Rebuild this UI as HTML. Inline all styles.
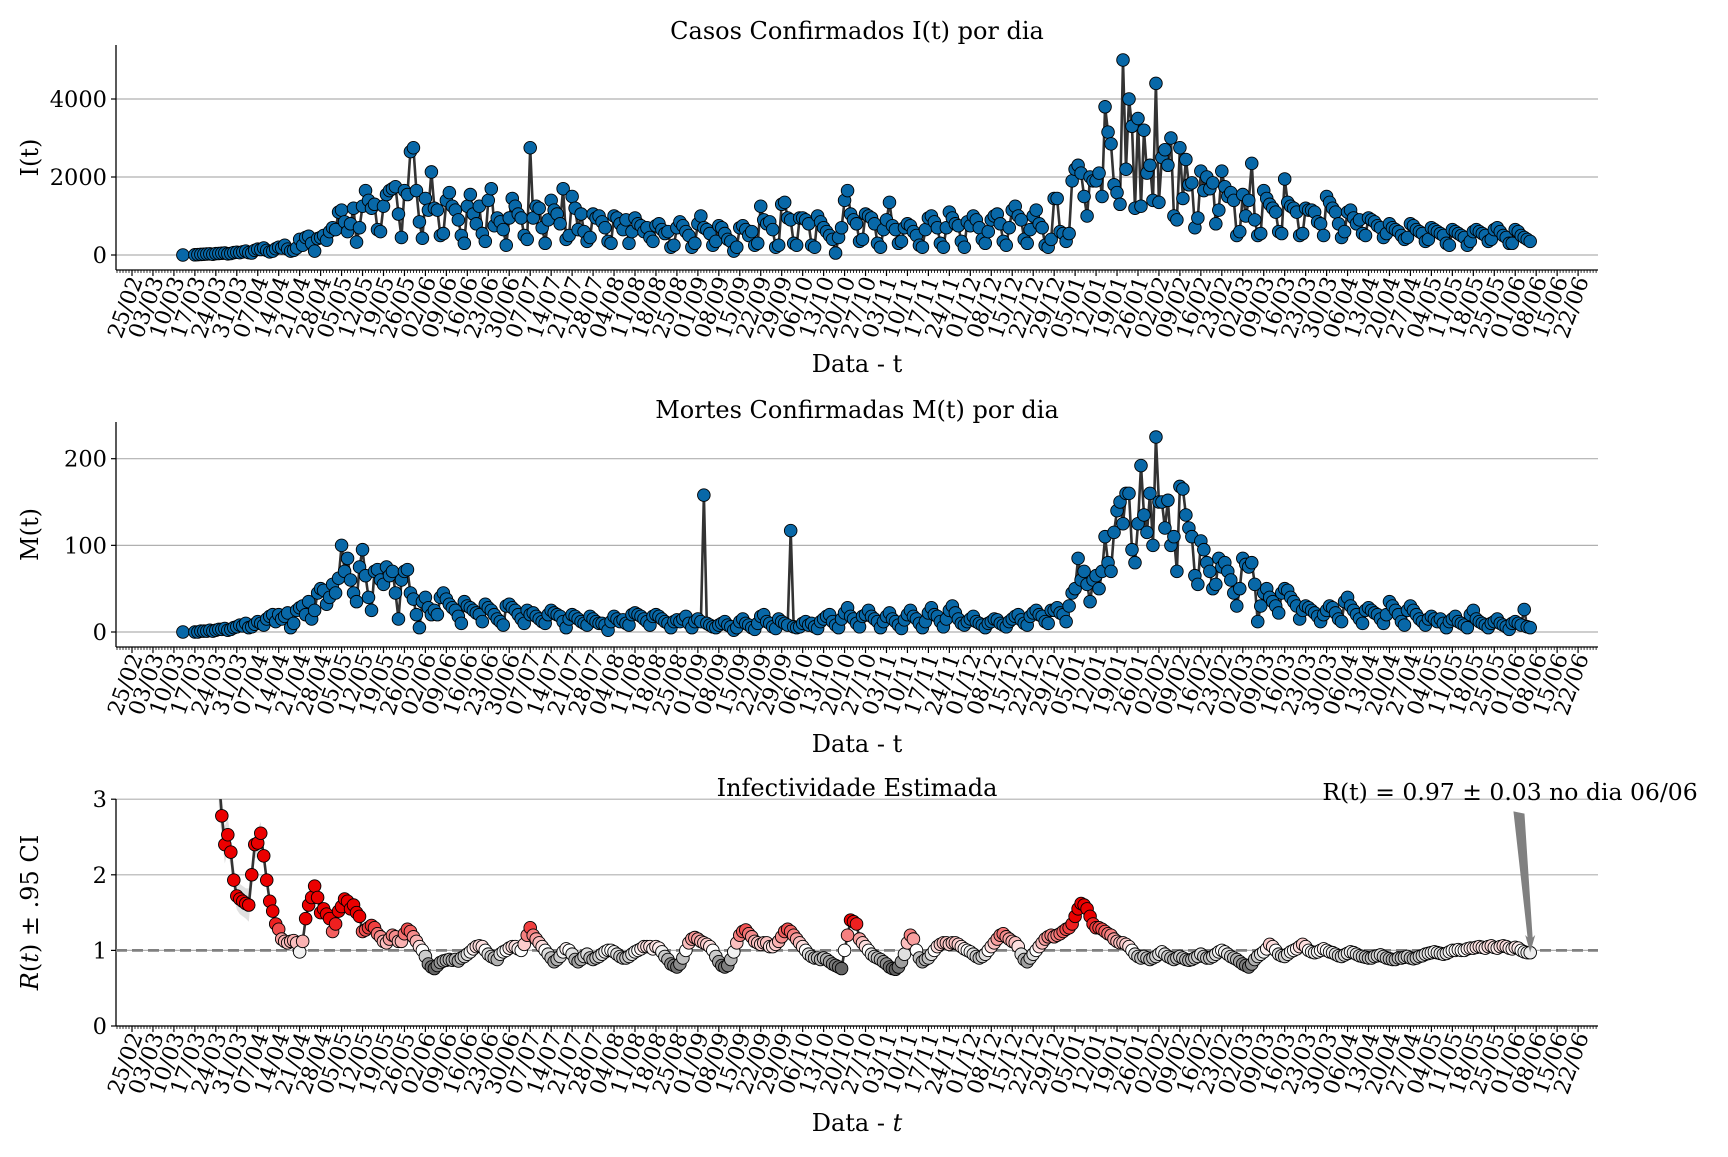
<!DOCTYPE html>
<html><head><meta charset="utf-8">
<style>
html,body{margin:0;padding:0;background:#fff;}
svg text{font-family:"DejaVu Serif","Liberation Serif",serif;fill:#000;}
</style></head>
<body>
<svg id="chart" width="1728" height="1152" viewBox="0 0 1728 1152" xmlns="http://www.w3.org/2000/svg">
<defs>
<clipPath id="c1"><rect x="116" y="45" width="1482" height="225"/></clipPath>
<clipPath id="c2"><rect x="116" y="422" width="1482" height="225"/></clipPath>
<clipPath id="c3"><rect x="116" y="799" width="1482" height="227"/></clipPath>
</defs>
<rect width="1728" height="1152" fill="#fff"/>
<g id="p1"></g>
<g id="p2"></g>
<g id="p3"></g>
</svg>
<script>
// ---------- DATA ----------
const firstDay = 17; // days since 25/02/2020
const casesValues = [1,null,null,null,
5,10,15,20,25,30,20, 35,40,45,50,30,40,60, 70,60,80,100,60,50,120, 150,140,180,120,80,100,160,
200,180,250,150,100,120,180, 400,250,450,480,300,100,420, 450,500,380,600,700,650,1100,
1150,850,600,800,1200,330,700, 1250,1650,1400,1200,1300,650,600, 1250,1550,1650,1700,1750,1050,450,
1650,1550,2650,2750,1650,850,430, 1450,1150,2130,1200,1150,500,550, 1400,1600,1250,1150,900,500,300,
1250,1550,1050,800,1250,550,350, 1400,1700,750,950,850,650,250, 950,1450,1250,1050,950,500,400,
2750,950,1250,1200,700,300,900, 1400,1150,1050,800,1700,400,500, 1500,1200,650,1050,600,350,450,
1050,950,1000,850,700,350,300, 1000,950,800,650,900,300,600, 950,800,750,600,700,450,350,
750,800,650,550,600,200,250, 700,850,750,600,500,200,300, 800,1000,700,650,550,250,350,
750,700,550,400,350,100,200, 700,750,650,500,600,250,300, 1250,900,800,850,650,200,250,
1300,1350,950,900,300,250,950, 950,900,800,250,200,1000,850, 700,600,500,400,50,450,700,
1400,1650,1050,900,800,350,400, 1050,1000,950,800,300,200,650, 900,1350,750,650,300,350,700,
800,750,600,500,250,200,650, 950,1000,850,700,300,200,700, 1100,950,800,750,350,200,850,
750,1000,900,700,400,300,600, 900,1000,1050,800,350,250,700, 1150,1250,1000,900,400,300,650,
1000,1150,800,700,250,200,400, 1450,1450,600,550,350,550,1900, 2200,2300,2100,1500,1000,2000,1900,
1900,2100,1500,3800,3150,2850,1800, 1600,1300,5000,2200,4000,3300,1200, 3500,1250,3200,2100,2300,1400,4400,
1350,2500,2700,2300,3000,1000,900, 2750,1450,2450,1800,1850,700,950, 2150,1650,2000,1700,1850,800,1150,
2150,1750,1500,1600,1400,500,600, 1550,1000,1400,2350,900,500,550, 1650,1450,1300,1200,1100,600,550,
1950,1350,1250,1200,1100,500,550, 1200,1150,1150,1100,850,800,500, 1500,1350,1200,1100,800,450,600,
1100,1150,950,800,900,550,500, 950,900,850,750,700,450,550, 800,700,650,600,500,400,450,
800,750,650,600,550,350,400, 700,650,600,550,500,300,250, 650,600,550,500,450,250,350,
600,650,600,550,500,350,400, 650,700,600,500,450,300,300, 650,600,500,450,400,350];
const deathsValues = [0,null,null,null,
0,0,1,1,1,2,1, 2,3,3,4,2,3,5, 6,8,7,10,5,6,9, 12,10,8,15,18,20,12,
20,15,18,22,5,10,25, 28,30,20,35,15,25,45, 50,48,32,40,55,45,62,
100,70,85,60,45,35,75, 95,65,40,25,70,72,60, 55,75,65,70,45,15,60,
70,72,45,38,20,5,35, 40,28,20,25,20,40,45, 38,32,28,25,18,10,35,
30,28,25,22,20,12,32, 28,25,20,15,12,8,30, 32,28,25,20,15,10,25,
20,22,18,15,12,10,20, 25,22,20,18,12,5,15, 20,18,15,12,10,8,18,
15,12,10,10,8,2,12, 18,15,12,14,10,8,20, 22,20,18,15,12,8,18,
20,18,15,12,10,5,12, 14,12,15,18,10,5,12, 15,12,158,10,8,6,5,
8,10,12,8,6,2,5, 12,15,10,8,5,3,10, 18,20,12,10,6,4,15,
12,10,8,117,6,5,6, 10,12,8,10,6,4,12, 15,18,20,12,8,5,15,
22,28,18,15,10,6,18, 20,25,18,15,12,5,12, 18,22,15,12,8,4,14,
20,25,18,15,10,5,12, 22,28,20,18,12,6,15, 25,30,22,15,10,8,12,
15,18,12,10,8,5,10, 12,15,14,10,8,6,12, 15,18,20,14,10,8,18,
22,25,20,18,12,10,25, 25,28,22,20,12,30,45, 50,85,60,70,55,35,60,
65,50,70,110,80,70,115, 140,150,125,160,160,95,80, 125,192,135,115,160,100,225,
150,150,120,152,100,110,70, 168,165,135,120,110,65,55, 105,95,80,70,50,55,85,
75,80,70,60,45,30,50, 85,78,75,80,55,12,30, 45,50,40,35,30,22,45,
50,48,40,35,30,15,25, 30,28,25,22,18,12,20, 25,30,28,22,15,12,35,
40,30,25,20,15,10,25, 28,25,22,20,15,10,20, 35,30,25,20,12,8,25,
30,25,20,15,12,8,15, 18,15,12,15,10,5,12, 15,18,12,10,8,5,20,
25,15,12,10,8,5,10, 12,15,10,8,6,3,10, 12,10,8,26,6,5];
const rFirstDay = 29;
const rValues = [3.3,2.78,2.4,2.53,2.3,1.93,1.72,1.68,1.65,1.62,1.6,2.0,2.4,2.42,2.55,2.25,1.93,1.65,1.52,1.35,1.28,1.15,1.12,1.1,1.12,1.13,1.1,0.98,1.12,1.42,1.6,1.7,1.85,1.7,1.5,1.55,1.48,1.42,1.25,1.35,1.52,1.58,1.68,1.65,1.55,1.6,1.5,1.45,1.25,1.27,1.3,1.33,1.3,1.22,1.18,1.12,1.1,1.15,1.2,1.18,1.12,1.12,1.22,1.28,1.25,1.18,1.12,1.05,1.0,
0.92,0.82,0.78,0.76,0.8,0.84,0.86,0.87,0.88,0.87,0.88,0.86,0.9,0.92,0.95,0.98,1.02,1.05,1.06,1.05,1.0,0.95,0.92,0.9,0.88,0.95,0.98,1.0,1.03,1.05,1.05,1.02,1.0,1.08,1.2,1.3,
1.2,1.15,1.1,1.05,1.0,0.95,0.9,0.85,0.88,0.92,0.98,1.02,1.0,0.95,0.88,0.85,0.88,0.92,0.95,0.9,0.88,0.9,0.92,0.95,0.98,1.0,1.0,0.98,0.95,0.92,0.9,0.9,0.92,0.95,0.98,1.0,1.02,1.05,1.05,1.05,1.02,1.05,1.03,0.98,0.92,0.88,0.82,0.8,0.78,
0.82,0.9,1.0,1.1,1.15,1.17,1.15,1.12,1.1,1.08,1.05,1.0,0.92,0.85,0.8,0.78,0.8,0.88,0.98,1.1,1.2,1.25,1.27,1.22,1.18,1.12,1.1,1.08,1.1,1.1,1.05,1.05,1.08,1.12,1.18,1.25,1.28,1.25,1.2,1.15,1.1,1.05,1.0,0.95,0.92,0.9,0.9,0.88,0.9,0.88,0.85,0.82,0.8,0.78,0.76,1.0,1.2,1.4,
1.38,1.35,1.15,1.1,1.05,1.0,0.95,0.92,0.9,0.88,0.85,0.82,0.78,0.76,0.75,0.78,0.85,0.95,1.1,1.2,1.15,1.0,0.9,0.85,0.88,0.9,0.95,1.0,1.05,1.08,1.1,1.1,1.08,1.1,1.1,1.08,1.05,1.02,1.0,0.98,0.95,0.92,0.9,0.92,0.95,1.0,1.05,1.1,1.15,1.2,1.22,1.18,1.15,1.12,1.1,1.05,0.95,0.88,0.85,0.9,
0.95,1.0,1.05,1.1,1.15,1.18,1.2,1.18,1.2,1.22,1.25,1.28,1.3,1.35,1.45,1.55,1.62,1.6,1.55,1.45,1.35,1.3,1.3,1.28,1.25,1.22,1.2,1.15,1.12,1.1,1.1,1.08,1.05,1.0,0.95,0.92,0.9,0.92,0.9,0.88,0.9,0.92,0.95,0.98,0.95,
0.92,0.9,0.88,0.9,0.92,0.9,0.88,0.87,0.88,0.9,0.92,0.95,0.92,0.9,0.9,0.92,0.95,0.98,1.0,0.98,0.95,0.92,0.9,0.88,0.85,0.82,0.8,0.78,0.82,0.88,0.92,0.95,0.98,1.02,1.08,1.05,1.0,0.95,0.93,0.92,0.95,0.98,1.0,1.02,1.05,1.08,1.05,1.0,0.98,0.97,0.98,1.0,1.02,1.0,0.98,
0.97,0.95,0.93,0.92,0.94,0.96,0.98,0.97,0.95,0.93,0.92,0.91,0.9,0.9,0.92,0.93,0.94,0.92,0.9,0.89,0.88,0.88,0.9,0.9,0.91,0.92,0.9,0.89,0.9,0.92,0.93,0.95,0.96,0.97,0.98,0.97,0.96,0.95,0.96,0.98,1.0,1.0,1.01,1.0,1.0,1.02,1.03,1.03,1.04,1.05,1.04,1.03,1.05,1.06,1.04,1.03,1.05,1.06,1.05,1.03,1.02,1.04,1.03,1.0,0.98,0.97,0.97];
const rErrors = [0.4,0.3,0.25,0.22,0.2,0.18,0.18,0.2,0.2,0.2,0.22,0.2,0.18,0.18,0.15,0.12,0.1,0.08,0.07,0.06,0.05,0.05,0.05,0.04,0.04];
const yTicks1 = [0,2000,4000];
const yTicks2 = [0,100,200];
const yTicks3 = [0,1,2,3];
const tickLabels = ["25/02","03/03","10/03","17/03","24/03","31/03","07/04","14/04","21/04","28/04","05/05","12/05","19/05","26/05","02/06","09/06","16/06","23/06","30/06","07/07","14/07","21/07","28/07","04/08","11/08","18/08","25/08","01/09","08/09","15/09","22/09","29/09","06/10","13/10","20/10","27/10","03/11","10/11","17/11","24/11","01/12","08/12","15/12","22/12","29/12","05/01","12/01","19/01","26/01","02/02","09/02","16/02","23/02","02/03","09/03","16/03","23/03","30/03","06/04","13/04","20/04","27/04","04/05","11/05","18/05","25/05","01/06","08/06","15/06","22/06"];

// ---------- HELPERS ----------
const NS = "http://www.w3.org/2000/svg";
function mk(tag, attrs, parent){const e=document.createElementNS(NS,tag);for(const k in attrs)e.setAttribute(k,attrs[k]);parent.appendChild(e);return e;}
const X0=116, X1=1598;
const xOfDay = d => 132 + d*2.994;
const panels = [
 {g:'p1', top:45, bottom:270, y:v=>255 - v*0.039, ticks:yTicks1, clip:'c1', title:'Casos Confirmados I(t) por dia', titleY:39, ylab:'I(t)', xlabY:372},
 {g:'p2', top:422, bottom:647, y:v=>632 - v*0.8665, ticks:yTicks2, clip:'c2', title:'Mortes Confirmadas M(t) por dia', titleY:418, ylab:'M(t)', xlabY:752},
 {g:'p3', top:799, bottom:1026, y:v=>1026 - v*75.6, ticks:yTicks3, clip:'c3', title:'Infectividade Estimada', titleY:796, ylab:null, xlabY:1131}
];

panels.forEach((p,pi)=>{
  const g=document.getElementById(p.g);
  p.ticks.forEach(t=>{
    const yy=p.y(t);
    const gl=mk('line',{x1:X0,x2:X1,y1:yy,y2:yy,stroke:'#b0b0b0','stroke-width':1.2},g);
    
    
    mk('line',{x1:X0-5,x2:X0,y1:yy,y2:yy,stroke:'#000','stroke-width':1.2},g);
    const tl=mk('text',{x:X0-9,y:yy+8,'text-anchor':'end','font-size':22.5},g);
    tl.textContent=String(t);
    
    
  });
  const ls=mk('line',{x1:X0,x2:X0,y1:p.top,y2:p.bottom,stroke:'#000','stroke-width':1.3},g);
  
  
  const bs=mk('line',{x1:X0,x2:X1,y1:p.bottom,y2:p.bottom,stroke:'#000','stroke-width':1.3},g);
  
  
  let dpath='';
  for(let d=-5; xOfDay(d)<=X1; d++){ const xx=xOfDay(d); if(xx<X0) continue; dpath+='M'+xx.toFixed(1)+' '+p.bottom+'v3'; }
  mk('path',{d:dpath,stroke:'#000','stroke-width':0.8},g);
  tickLabels.forEach((lab,i)=>{
    const xx=xOfDay(i*7);
    mk('line',{x1:xx,x2:xx,y1:p.bottom,y2:p.bottom+6,stroke:'#000','stroke-width':1.2},g);
    const ax=xx+11, ay=p.bottom+10;
    const t=mk('text',{x:ax,y:ay,'text-anchor':'end','font-size':22,transform:`rotate(-70 ${ax} ${ay})`},g);
    t.textContent=lab;
    
    
  });
  const tt=mk('text',{x:(X0+X1)/2,y:p.titleY,'text-anchor':'middle','font-size':24},g);
  tt.textContent=p.title;
  
  
  const xl=mk('text',{x:(X0+X1)/2,y:p.xlabY,'text-anchor':'middle','font-size':24},g);
  if(pi===2){ xl.innerHTML='Data - <tspan font-style="italic">t</tspan>'; } else { xl.textContent='Data - t'; }
  
  
  const cy=(p.top+p.bottom)/2;
  const yl=mk('text',{x:38,y:cy,'text-anchor':'middle','font-size':24,transform:`rotate(-90 38 ${cy})`},g);
  if(p.ylab){ yl.textContent=p.ylab; } else { yl.innerHTML='<tspan font-style="italic">R</tspan>(<tspan font-style="italic">t</tspan>) ± .95 CI'; }
  
  
});

function drawSeries(panel, values, start, name){
  const g=document.getElementById(panel.g);
  const sg=mk('g',{'clip-path':`url(#${panel.clip})`},g);
  
  
  let d='', pen=false;
  values.forEach((v,i)=>{ if(v===null){pen=false;return;} const xx=xOfDay(start+i), yy=panel.y(v); d+=(pen?'L':'M')+xx.toFixed(1)+' '+yy.toFixed(1); pen=true; });
  const ln=mk('path',{d:d,fill:'none',stroke:'#333','stroke-width':2.6,'stroke-linejoin':'round'},sg);
  
  
  return sg;
}
const sg1=drawSeries(panels[0],casesValues,firstDay,'cases');
casesValues.forEach((v,i)=>{ if(v===null) return;
  const c=mk('circle',{cx:xOfDay(firstDay+i),cy:panels[0].y(v),r:6.3,fill:'#0868a8',stroke:'#000','stroke-width':0.9},sg1);
  
  
});
const sg2=drawSeries(panels[1],deathsValues,firstDay,'deaths');
deathsValues.forEach((v,i)=>{ if(v===null) return;
  const c=mk('circle',{cx:xOfDay(firstDay+i),cy:panels[1].y(v),r:6.3,fill:'#0868a8',stroke:'#000','stroke-width':0.9},sg2);
  
  
});
const P3=panels[2], g3=document.getElementById('p3');
(function(){
  const n=rValues.length;
  const pts=[];
  for(let i=0;i<n;i++){ const e=i<rErrors.length?rErrors[i]:0.02; pts.push([xOfDay(rFirstDay+i),P3.y(rValues[i]+e),P3.y(rValues[i]-e)]); }
  let d='M'+pts.map(p=>p[0].toFixed(1)+' '+p[1].toFixed(1)).join('L');
  d+='L'+pts.slice().reverse().map(p=>p[0].toFixed(1)+' '+p[2].toFixed(1)).join('L')+'Z';
  const b=mk('path',{d:d,fill:'#cccccc','fill-opacity':0.6,'clip-path':'url(#c3)'},g3);
  
  
})();
const ref=mk('line',{x1:X0,x2:X1,y1:P3.y(1),y2:P3.y(1),stroke:'#808080','stroke-width':2.8,'stroke-dasharray':'11,5'},g3);


const sg3=drawSeries(P3,rValues,rFirstDay,'rt');
function rColor(r){
  let a,b,t;
  if(r>=1){ t=Math.min((r-1)/0.4,1); a=[255,255,255]; b=[235,0,0]; }
  else { t=Math.min((1-r)/0.25,1); a=[255,255,255]; b=[95,95,95]; }
  const c=a.map((v,k)=>Math.round(v+(b[k]-v)*t));
  return `rgb(${c[0]},${c[1]},${c[2]})`;
}
rValues.forEach((v,i)=>{
  const c=mk('circle',{cx:xOfDay(rFirstDay+i),cy:P3.y(v),r:6.3,fill:rColor(v),stroke:'#000','stroke-width':0.9},sg3);
  
  
});
const lastX=xOfDay(rFirstDay+rValues.length-1), lastY=P3.y(rValues[rValues.length-1]);
const arrow=mk('polygon',{points:`1514,812 1524,814 ${lastX+2},${lastY-14} ${lastX+4},${lastY-16} ${lastX},${lastY-2} ${lastX-4},${lastY-16} ${lastX-2},${lastY-14}`,fill:'#808080',stroke:'#808080','stroke-width':1},g3);


const an=mk('text',{x:1510,y:800,'text-anchor':'middle','font-size':23.5},g3);
an.textContent='R(t) = 0.97 ± 0.03 no dia 06/06';


</script>
</body></html>
